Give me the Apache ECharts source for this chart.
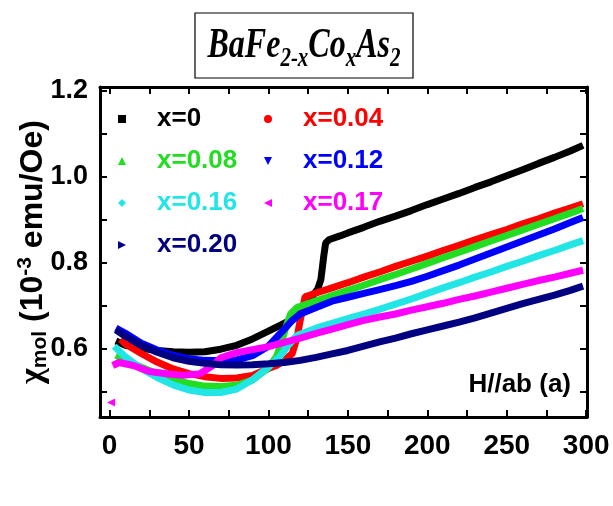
<!DOCTYPE html>
<html>
<head>
<meta charset="utf-8">
<script src="https://cdn.jsdelivr.net/npm/echarts@6/dist/echarts.min.js"></script>
<style>
  html, body { margin: 0; padding: 0; background: #fff; }
  #chart { width: 613px; height: 506px; }
</style>
</head>
<body>
<div id="chart"></div>
<script>
// Molar susceptibility of BaFe(2-x)Co(x)As2 vs temperature, H // ab
const seriesNames = ['x=0', 'x=0.04', 'x=0.08', 'x=0.12', 'x=0.16', 'x=0.17', 'x=0.20'];
const seriesColors = ['#000000', '#ff0000', '#22dd22', '#0000ff', '#22e5e5', '#ff00ff', '#000080'];
const legendIcons = [
  'rect', 'circle', 'triangle',
  'path://M0,0L10,0L5,10Z',
  'diamond',
  'path://M10,0L10,10L0,5Z',
  'path://M0,0L10,5L0,10Z'
];

// [T (K), chi (1e-3 emu/Oe)]
const chiX000 = [[4,0.617],[10,0.607],[20,0.600],[30,0.595],[40,0.592],[50,0.591],[60,0.592],[70,0.598],
  [80,0.607],[90,0.622],[100,0.640],[107,0.653],[112,0.662],[117,0.677],[122,0.697],[127,0.718],[131,0.738],
  [133,0.760],[134,0.790],[135,0.820],[136,0.845],[138,0.853],[145,0.862],[150,0.869],[160,0.882],[170,0.896],
  [180,0.908],[190,0.921],[200,0.935],[210,0.948],[220,0.961],[230,0.975],[240,0.988],[250,1.002],[260,1.016],
  [270,1.031],[280,1.045],[290,1.060],[298,1.073]];
const chiX004 = [[7,0.621],[10,0.610],[20,0.588],[30,0.568],[40,0.552],[50,0.541],[60,0.534],[70,0.530],
  [80,0.531],[90,0.537],[100,0.553],[105,0.560],[110,0.572],[115,0.588],[118,0.625],[120,0.665],[122,0.700],
  [123,0.720],[130,0.729],[140,0.741],[150,0.753],[160,0.766],[170,0.778],[180,0.791],[190,0.803],[200,0.815],
  [210,0.828],[220,0.840],[230,0.853],[240,0.865],[250,0.877],[260,0.890],[270,0.902],[280,0.915],[290,0.927],
  [298,0.937]];
const chiX008 = [[4,0.584],[10,0.572],[20,0.556],[30,0.541],[40,0.528],[50,0.518],[60,0.512],[70,0.511],
  [80,0.514],[90,0.526],[100,0.555],[105,0.580],[108,0.610],[111,0.650],[114,0.680],[118,0.695],[130,0.711],
  [140,0.723],[150,0.735],[160,0.747],[170,0.760],[180,0.772],[190,0.785],[200,0.798],[210,0.811],[220,0.824],
  [230,0.837],[240,0.850],[250,0.863],[260,0.876],[270,0.889],[280,0.902],[290,0.915],[298,0.926]];
const chiX012 = [[4,0.647],[10,0.635],[20,0.612],[30,0.596],[40,0.584],[50,0.576],[60,0.572],[70,0.571],
  [80,0.573],[90,0.583],[100,0.605],[105,0.625],[110,0.645],[115,0.665],[120,0.680],[130,0.695],[140,0.710],
  [150,0.719],[160,0.728],[170,0.737],[180,0.746],[190,0.756],[200,0.768],[210,0.781],[220,0.794],[230,0.808],
  [240,0.822],[250,0.836],[260,0.850],[270,0.864],[280,0.878],[290,0.893],[298,0.905]];
const chiX016 = [[3,0.605],[10,0.580],[20,0.553],[30,0.532],[40,0.515],[50,0.503],[60,0.497],[70,0.497],
  [80,0.505],[90,0.527],[100,0.556],[107,0.580],[112,0.605],[118,0.630],[130,0.647],[140,0.658],[150,0.669],
  [160,0.680],[170,0.691],[180,0.703],[190,0.715],[200,0.728],[210,0.741],[220,0.753],[230,0.766],[240,0.778],
  [250,0.791],[260,0.803],[270,0.816],[280,0.828],[290,0.841],[298,0.851]];
const chiX017 = [[1,0.474],[1.5,null],[2,0.560],[6,0.567],[15,0.560],[25,0.546],[36,0.541],[46,0.537],
  [57,0.541],[65,0.560],[70,0.578],[80,0.590],[90,0.597],[100,0.604],[110,0.614],[120,0.624],[130,0.635],
  [140,0.645],[150,0.655],[160,0.665],[170,0.673],[180,0.680],[190,0.689],[200,0.697],[210,0.705],[220,0.714],
  [230,0.722],[240,0.731],[250,0.740],[260,0.749],[270,0.758],[280,0.766],[290,0.775],[298,0.782]];
const chiX020 = [[4,0.643],[10,0.628],[20,0.607],[30,0.591],[40,0.578],[50,0.570],[60,0.565],[70,0.562],
  [80,0.561],[90,0.562],[100,0.564],[110,0.567],[120,0.572],[130,0.579],[140,0.587],[150,0.595],[160,0.605],
  [170,0.615],[180,0.624],[190,0.634],[200,0.643],[210,0.652],[220,0.661],[230,0.671],[240,0.682],[250,0.693],
  [260,0.704],[270,0.714],[280,0.724],[290,0.735],[298,0.745]];
const seriesData = [chiX000, chiX004, chiX008, chiX012, chiX016, chiX017, chiX020];

const xTickValues = [0, 25, 50, 75, 100, 125, 150, 175, 200, 225, 250, 275, 300];
const xLabelValues = [0, 50, 100, 150, 200, 250, 300];
const yTickValues = [0.5, 0.6, 0.7, 0.8, 0.9, 1.0, 1.1, 1.2];
const yLabelValues = [0.6, 0.8, 1.0, 1.2];

const sansFont = '"Liberation Sans", Arial, sans-serif';
const serifFont = '"Liberation Serif", "Times New Roman", serif';

const chart = echarts.init(document.getElementById('chart'), null, { renderer: 'canvas' });

const axisLine = { show: true, onZero: false, lineStyle: { color: '#000', width: 3 } };
function xAxisOf(position, withLabels) {
  return {
    type: 'value', position: position, min: -6, max: 300.5,
    axisLine: axisLine,
    axisTick: { show: true, inside: true, length: 7, lineStyle: { color: '#000', width: 2 }, customValues: xTickValues },
    axisLabel: withLabels
      ? { show: true, customValues: xLabelValues, color: '#000', fontSize: 28, fontWeight: 'bold', fontFamily: sansFont, margin: 15 }
      : { show: false },
    splitLine: { show: false }
  };
}
function yAxisOf(position, withLabels) {
  const ax = {
    type: 'value', position: position, min: 0.44, max: 1.209,
    axisLine: axisLine,
    axisTick: { show: true, inside: true, length: 7, lineStyle: { color: '#000', width: 2 }, customValues: yTickValues },
    axisLabel: withLabels
      ? { show: true, customValues: yLabelValues, formatter: v => v.toFixed(1), color: '#000', fontSize: 27, fontWeight: 'bold', fontFamily: sansFont, margin: 12 }
      : { show: false },
    splitLine: { show: false }
  };
  if (withLabels) {
    ax.name = '{chi|χ}{sub|mol}{n| (10}{sup|-3}{n| emu/Oe)}';
    ax.nameLocation = 'middle';
    ax.nameRotate = 90;
    ax.nameGap = 49;
    ax.nameMoveOverlap = false;
    ax.nameTextStyle = {
      color: '#000', fontWeight: 'bold', fontFamily: sansFont,
      rich: {
        chi: { fontSize: 34, fontWeight: 'bold', fontFamily: serifFont, lineHeight: 36, verticalAlign: 'middle' },
        n: { fontSize: 32, fontWeight: 'bold', fontFamily: sansFont, lineHeight: 36, verticalAlign: 'middle' },
        sub: { fontSize: 21, fontWeight: 'bold', fontFamily: sansFont, lineHeight: 20, verticalAlign: 'bottom' },
        sup: { fontSize: 21, fontWeight: 'bold', fontFamily: sansFont, lineHeight: 20, verticalAlign: 'top' }
      }
    };
  }
  return ax;
}

function legendOf(indices, left) {
  return {
    orient: 'vertical', left: left, top: 99,
    itemWidth: 8, itemHeight: 8, itemGap: 12,
    selectedMode: false,
    textStyle: { fontSize: 26, fontWeight: 'bold', fontFamily: sansFont, padding: [0, 0, 0, 26], lineHeight: 30 },
    data: indices.map(i => ({
      name: seriesNames[i], icon: legendIcons[i],
      itemStyle: { color: seriesColors[i] },
      textStyle: { color: seriesColors[i] }
    }))
  };
}

const series = seriesData.map((data, i) => ({
  name: seriesNames[i],
  type: 'line',
  xAxisIndex: 0, yAxisIndex: 0,
  data: data.map(p => (seriesNames[i] === 'x=0.17' && p[0] === 1)
    ? { value: p, symbol: legendIcons[i], symbolSize: 8 }
    : p),
  showSymbol: true,
  symbol: 'none',
  connectNulls: false,
  color: seriesColors[i],
  lineStyle: { color: seriesColors[i], width: 7 },
  itemStyle: { color: seriesColors[i] },
  z: 2 + i,
  animation: false
}));

chart.setOption({
  backgroundColor: '#fff',
  animation: false,
  grid: { left: 100, right: 26, top: 87, bottom: 89, containLabel: false, outerBoundsMode: 'none' },
  xAxis: [xAxisOf('bottom', true), xAxisOf('top', false)],
  yAxis: [yAxisOf('left', true), yAxisOf('right', false)],
  legend: [legendOf([0, 2, 4, 6], 113), legendOf([1, 3, 5], 259)],
  graphic: [
    {
      type: 'rect', z: 10,
      shape: { x: 195, y: 13, width: 218, height: 65 },
      style: { fill: '#fff', stroke: '#000', lineWidth: 1.2 }
    },
    {
      type: 'text', z: 11, x: 304, y: 49, scaleY: 1.35,
      style: {
        x: 0, y: 0, align: 'center', verticalAlign: 'middle',
        text: '{m|BaFe}{s|2-x}{m|Co}{s|x}{m|As}{s|2}',
        fill: '#000',
        rich: {
          m: { fontSize: 32, fontStyle: 'italic', fontWeight: 'bold', fontFamily: serifFont, lineHeight: 36, verticalAlign: 'top' },
          s: { fontSize: 21, fontStyle: 'italic', fontWeight: 'bold', fontFamily: serifFont, lineHeight: 36, verticalAlign: 'bottom' }
        }
      }
    },
    {
      type: 'text', z: 11, x: 571, y: 385,
      style: {
        text: 'H//ab (a)', align: 'right', verticalAlign: 'middle',
        fill: '#000', font: 'bold 26px ' + sansFont
      }
    }
  ],
  series: series
});
</script>
</body>
</html>
